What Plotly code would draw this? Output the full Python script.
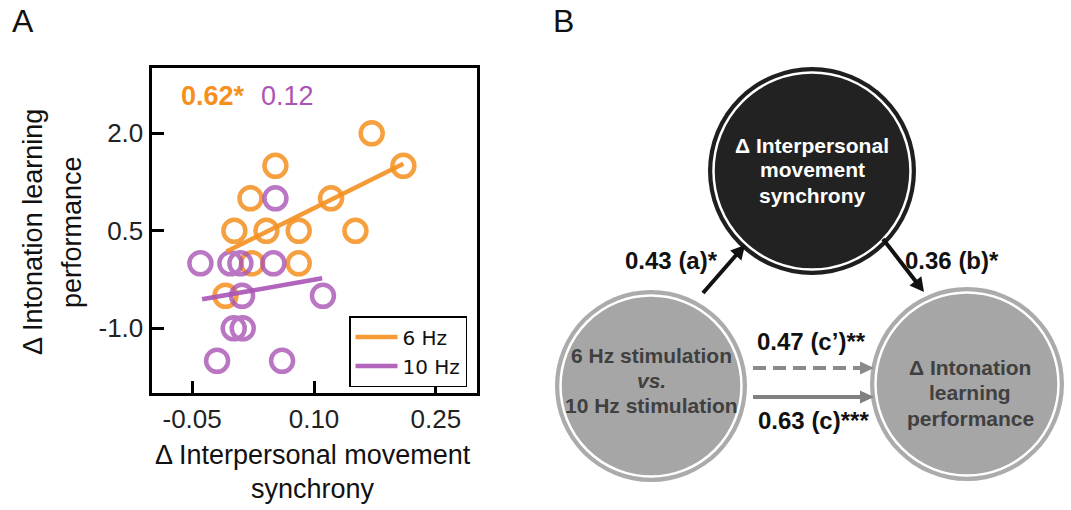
import math
import plotly.graph_objects as go

W, H = 1071, 510
FONT = "Liberation Sans, Arial, sans-serif"

# ---------------- Panel A data ----------------
orange_x = [0.171, 0.210, 0.0525, 0.0218, 0.121, 0.002, 0.0414, 0.0812, 0.151, 0.0238, 0.0812, -0.009]
orange_y = [2.0, 1.5, 1.5, 1.0, 1.0, 0.5, 0.5, 0.5, 0.5, 0.0, 0.0, -0.5]
purple_x = [-0.0398, -0.0029, 0.0094, 0.050, 0.0525, 0.0115, 0.111, 0.0012, 0.0123, -0.0193, 0.0607]
purple_y = [0.0, 0.0, 0.0, 0.0, 1.0, -0.5, -0.5, -1.0, -1.0, -1.5, -1.5]
fit6_x = [-0.0078, 0.210]
fit6_y = [0.18, 1.53]
fit10_x = [-0.0377, 0.110]
fit10_y = [-0.554, -0.231]
x_ticks = [-0.05, 0.10, 0.25]
x_ticklabels = ["-0.05", "0.10", "0.25"]
y_ticks = [-1.0, 0.5, 2.0]
y_ticklabels = ["-1.0", "0.5", "2.0"]
r6_label = "0.62*"
r10_label = "0.12"

ORANGE = "#F5901F"
PURPLE = "#A955B5"

# ---------------- Panel B content ----------------
node_top_lines = ["Δ Interpersonal", "movement", "synchrony"]
node_left_lines = ["6 Hz stimulation", "<i>vs.</i>", "10 Hz stimulation"]
node_right_lines = ["Δ Intonation", "learning", "performance"]
path_labels = ["0.43 (a)*", "0.36 (b)*", "0.47 (c’)**", "0.63 (c)***"]

fig = go.Figure()

fig.add_trace(go.Scatter(x=orange_x, y=orange_y, mode="markers", showlegend=False,
                         opacity=0.85,
                         marker=dict(symbol="circle", size=22, color="rgba(0,0,0,0)",
                                     line=dict(color=ORANGE, width=4.5))))
fig.add_trace(go.Scatter(x=purple_x, y=purple_y, mode="markers", showlegend=False,
                         opacity=0.8,
                         marker=dict(symbol="circle", size=22, color="rgba(0,0,0,0)",
                                     line=dict(color=PURPLE, width=4.5))))
fig.add_trace(go.Scatter(x=fit6_x, y=fit6_y, mode="lines", name="6 Hz", opacity=0.9,
                         line=dict(color=ORANGE, width=4.5)))
fig.add_trace(go.Scatter(x=fit10_x, y=fit10_y, mode="lines", name="10 Hz", opacity=0.9,
                         line=dict(color=PURPLE, width=4.5)))

x0p, x1p = 151.5, 476.5
y0p, y1p = 68.3, 393.3
fig.update_layout(
    width=W, height=H,
    margin=dict(l=0, r=0, t=0, b=0),
    paper_bgcolor="white", plot_bgcolor="white",
    font=dict(family=FONT, color="#1a1a1a"),
    xaxis=dict(domain=[x0p / W, x1p / W], range=[-0.1, 0.3], tickvals=x_ticks,
               ticktext=x_ticklabels, ticks="inside", ticklen=12, tickwidth=3,
               tickcolor="black", showline=True, linewidth=3, linecolor="black",
               mirror=True, showgrid=False, zeroline=False, fixedrange=True,
               tickfont=dict(size=26, family=FONT, color="#222")),
    yaxis=dict(domain=[1 - y1p / H, 1 - y0p / H], range=[-2.0, 3.0], tickvals=y_ticks,
               ticktext=y_ticklabels, ticks="inside", ticklen=12, tickwidth=3,
               tickcolor="black", showline=True, linewidth=3, linecolor="black",
               mirror=True, showgrid=False, zeroline=False, fixedrange=True,
               tickfont=dict(size=26, family=FONT, color="#222")),
    legend=dict(x=467 / W, y=1 - 316 / H, xanchor="right", yanchor="top",
                bgcolor="white", bordercolor="black", borderwidth=1.5,
                font=dict(size=20, family="DejaVu Sans, sans-serif", color="#111"),
                tracegroupgap=0, itemwidth=42),
    showlegend=True,
)

anns = []
shapes = []


def PX(x):
    return x / W


def PY(y):
    return 1 - y / H


def px_ann(x, y, text, size, color="#111", bold=False, angle=0, xanchor="center"):
    if bold:
        text = "<b>" + text + "</b>"
    anns.append(dict(x=PX(x), y=PY(y), xref="paper", yref="paper", text=text,
                     showarrow=False, textangle=angle, xanchor=xanchor, yanchor="middle",
                     font=dict(size=size, color=color, family=FONT)))


# Panel labels
px_ann(22.5, 21, "A", 32)
px_ann(563.5, 21, "B", 32)

# Axis titles panel A
px_ann(33, 232, "Δ Intonation learning", 27, angle=-90)
px_ann(72, 232, "performance", 27, angle=-90)
px_ann(313, 455, "Δ Interpersonal movement", 27)
px_ann(313, 489, "synchrony", 27)

# correlation labels
px_ann(179, 96, r6_label, 27, color=ORANGE, bold=True, xanchor="left")
px_ann(259, 96, r10_label, 27, color=PURPLE, xanchor="left")


# ---------------- Panel B ----------------
def circle(cx, cy, r, fill, line_color=None, lw=0):
    shapes.append(dict(type="circle", xref="paper", yref="paper",
                       x0=PX(cx - r), x1=PX(cx + r), y0=PY(cy + r), y1=PY(cy - r),
                       fillcolor=fill, line=dict(color=line_color or fill, width=lw),
                       layer="above"))


def node(cx, cy, r, ring, fill):
    circle(cx, cy, r, ring)
    circle(cx, cy, r - 5.5, fill, "white", 2.5)


top_c = (812, 171, 104)
left_c = (651, 386, 96)
right_c = (967, 384, 97)
node(*top_c, "#1f1f1f", "#222222")
node(*left_c, "#ababab", "#a6a6a6")
node(*right_c, "#ababab", "#a6a6a6")


def arrow(x0, y0, x1, y1, color, width, head_len=14, head_w=15, dash="solid"):
    dx, dy = x1 - x0, y1 - y0
    L = math.hypot(dx, dy)
    ux, uy = dx / L, dy / L
    bx, by = x1 - ux * head_len, y1 - uy * head_len
    nx, ny = -uy, ux
    shapes.append(dict(type="line", xref="paper", yref="paper", x0=PX(x0), y0=PY(y0),
                       x1=PX(bx + ux), y1=PY(by + uy),
                       line=dict(color=color, width=width, dash=dash), layer="above"))
    pts = [(x1, y1), (bx + nx * head_w / 2, by + ny * head_w / 2),
           (bx - nx * head_w / 2, by - ny * head_w / 2)]
    p = "M " + " L ".join(f"{PX(a)},{PY(b)}" for a, b in pts) + " Z"
    shapes.append(dict(type="path", xref="paper", yref="paper", path=p, fillcolor=color,
                       line=dict(color=color, width=0), layer="above"))


arrow(703, 293, 745, 245, "#111111", 4)
arrow(883, 239, 924, 292, "#111111", 4)
arrow(753, 368, 874, 368, "#8a8a8a", 4, head_len=14, head_w=13, dash="13px,7px")
arrow(753, 397, 874, 397, "#808080", 4, head_len=14, head_w=13)

# node texts
for i, t in enumerate(node_top_lines):
    px_ann(812, 145 + 25 * i, t, 21, color="white", bold=True)
for i, t in enumerate(node_left_lines):
    px_ann(652, 355 + 25 * i, t, 21, color="#404040", bold=True)
for i, t in enumerate(node_right_lines):
    px_ann(970, 367 + 25.5 * i, t, 21, color="#404040", bold=True)

# path labels
px_ann(671, 260, path_labels[0], 24, bold=True)
px_ann(952, 260, path_labels[1], 24, bold=True)
px_ann(811, 341, path_labels[2], 24, bold=True)
px_ann(813, 420, path_labels[3], 24, bold=True)

fig.update_layout(annotations=anns, shapes=shapes)
fig.write_html("out.html", config={"displayModeBar": False},
               post_script="document.body.style.margin='0';document.body.style.overflow='hidden';")
